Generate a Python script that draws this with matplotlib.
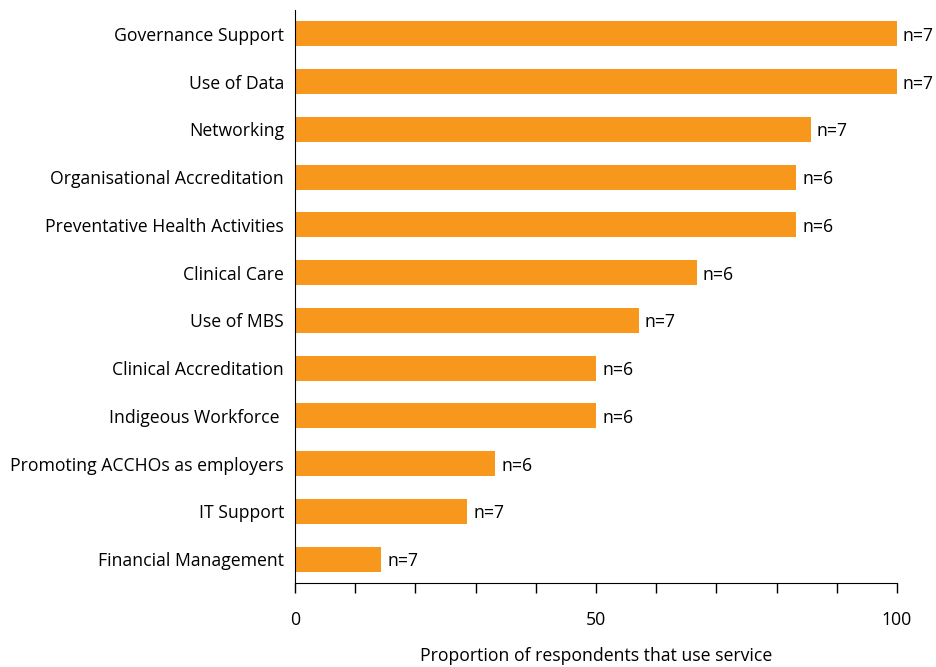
import matplotlib.pyplot as plt
from matplotlib.ticker import MultipleLocator

plt.rcParams['font.family'] = ['Open Sans', 'DejaVu Sans']

# データ（上から順）
categories = ['Governance Support', 'Use of Data', 'Networking',
              'Organisational Accreditation', 'Preventative Health Activities',
              'Clinical Care', 'Use of MBS', 'Clinical Accreditation',
              'Indigeous Workforce ', 'Promoting ACCHOs as employers',
              'IT Support', 'Financial Management']
values = [100, 100, 85.7, 83.3, 83.3, 66.7, 57.1, 50, 50, 33.3, 28.6, 14.3]
n_labels = ['n=7', 'n=7', 'n=7', 'n=6', 'n=6', 'n=6', 'n=7', 'n=6', 'n=6',
            'n=6', 'n=7', 'n=7']

fs = 12.7

fig = plt.figure(figsize=(9.36, 6.67), dpi=100)
ax = fig.add_axes([0.3152, 0.1259, 0.6431, 0.8591])

pos = list(range(len(categories)))
ax.barh(pos, values, height=0.52, color='#F7981D')

for p, v, t in zip(pos, values, n_labels):
    ax.text(v + 1.0, p + 0.04, t, va='center', ha='left', fontsize=fs)

ax.set_ylim(len(categories) - 0.5, -0.5)
ax.set_xlim(0, 100)
ax.set_yticks(pos)
ax.set_yticklabels(categories, fontsize=fs)
ax.tick_params(axis='y', length=0, pad=8)

ax.set_xticks([0, 50, 100])
ax.xaxis.set_minor_locator(MultipleLocator(10))
ax.tick_params(axis='x', which='both', direction='out', length=7, width=1,
               labelsize=fs, pad=13)

ax.spines['top'].set_visible(False)
ax.spines['right'].set_visible(False)

ax.set_xlabel('Proportion of respondents that use service', fontsize=fs,
              labelpad=13)

plt.savefig('out.png', dpi=100)
